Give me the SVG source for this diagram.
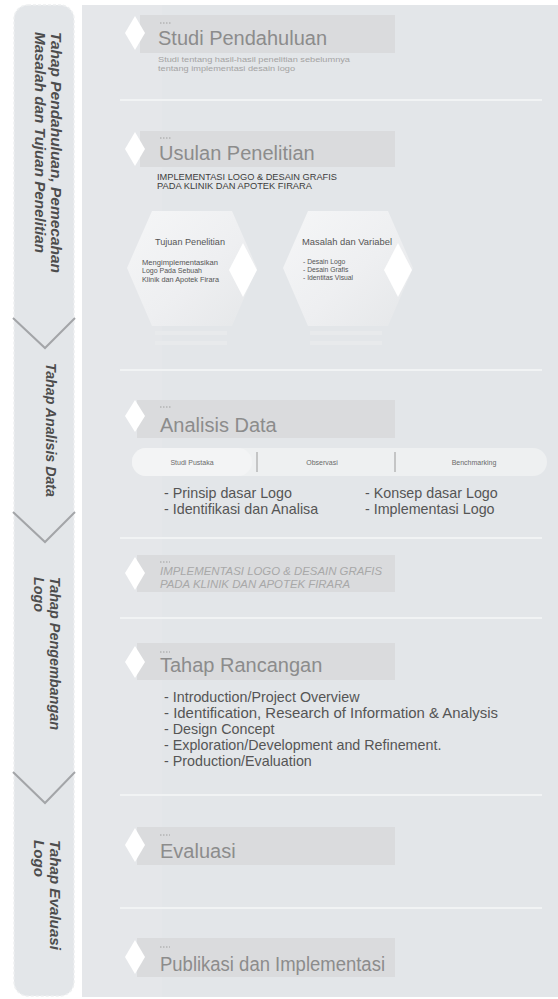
<svg xmlns="http://www.w3.org/2000/svg" width="558" height="999" viewBox="0 0 558 999">
<defs>
<style>
.col{fill:#e3e6e9;stroke:#eef0f1;stroke-width:1.5;stroke-dasharray:3 2}
.panel{fill:#e3e6e9}
.sep{stroke:#f1f3f4;stroke-width:2}
.lbl{fill:#dadbdd}
.dia{fill:#ffffff}
.dots{stroke:#a0a0a0;stroke-width:1;stroke-dasharray:1.5 1.5}
.title{font-family:"Liberation Sans",Arial,sans-serif;font-size:20px;fill:#8c8c8c}
.side{font-family:"Liberation Sans",Arial,sans-serif;font-size:14.5px;font-weight:bold;font-style:italic;fill:#4d4d4d}
.sub{font-family:"Liberation Sans",Arial,sans-serif;font-size:6.5px;fill:#a3a3a3}
.caps{font-family:"Liberation Sans",Arial,sans-serif;font-size:8.5px;fill:#3c3c3c}
.capsi{font-family:"Liberation Sans",Arial,sans-serif;font-size:10.5px;font-style:italic;fill:#a8a8a8}
.hx{font-family:"Liberation Sans",Arial,sans-serif;fill:#555}
.pill{font-family:"Liberation Sans",Arial,sans-serif;font-size:7px;fill:#6a6a6a}
.list{font-family:"Liberation Sans",Arial,sans-serif;font-size:14.3px;fill:#555}
.chev{fill:none;stroke:#a3a5a8;stroke-width:2}
</style>
<linearGradient id="hexg" x1="0" y1="0" x2="1" y2="1">
<stop offset="0" stop-color="#f5f6f7"/>
<stop offset="0.55" stop-color="#eeeff1"/>
<stop offset="1" stop-color="#e5e7e9"/>
</linearGradient>
</defs>
<rect width="558" height="999" fill="#ffffff"/>
<g id="left-column">
<rect class="col" x="14" y="5" width="60" height="991" rx="14"/>
</g>
<g id="main-panel">
<rect class="panel" x="82" y="5" width="476" height="992"/>
<rect x="82" y="5" width="80" height="992" fill="#e5e7ea"/>
<line class="sep" x1="120" y1="100" x2="542" y2="100"/>
<line class="sep" x1="120" y1="370" x2="542" y2="370"/>
<line class="sep" x1="120" y1="538" x2="542" y2="538"/>
<line class="sep" x1="120" y1="618" x2="542" y2="618"/>
<line class="sep" x1="120" y1="795" x2="542" y2="795"/>
<line class="sep" x1="120" y1="908" x2="542" y2="908"/>
</g>
<g id="connectors">
<polyline class="chev" points="13,318 45,348 75,318"/>
<polyline class="chev" points="13,512 45,542 75,512"/>
<polyline class="chev" points="13,772 45,803 75,772"/>
</g>
<g id="phase-1">
<text class="side" transform="translate(51,32) rotate(90)" textLength="241" lengthAdjust="spacingAndGlyphs">Tahap Pendahuluan, Pemecahan</text>
<text class="side" transform="translate(35,32) rotate(90)" textLength="221" lengthAdjust="spacingAndGlyphs">Masalah dan Tujuan Penelitian</text>
</g>
<g id="phase-2">
<text class="side" transform="translate(46,363) rotate(90)" textLength="134" lengthAdjust="spacingAndGlyphs">Tahap Analisis Data</text>
</g>
<g id="phase-3">
<text class="side" transform="translate(50,577) rotate(90)" textLength="153" lengthAdjust="spacingAndGlyphs">Tahap Pengembangan</text>
<text class="side" transform="translate(34,577) rotate(90)" textLength="35" lengthAdjust="spacingAndGlyphs">Logo</text>
</g>
<g id="phase-4">
<text class="side" transform="translate(50,840) rotate(90)" textLength="110" lengthAdjust="spacingAndGlyphs">Tahap Evaluasi</text>
<text class="side" transform="translate(34,840) rotate(90)" textLength="37" lengthAdjust="spacingAndGlyphs">Logo</text>
</g>
<g id="studi-pendahuluan">
<rect class="lbl" x="140" y="15" width="255" height="38"/>
<polygon class="dia" points="135,16 145,33 135,50 125,33"/>
<line class="dots" x1="160" y1="23" x2="172" y2="23"/>
<text class="title" x="158" y="45">Studi Pendahuluan</text>
<text class="sub" x="158" y="62" textLength="192" lengthAdjust="spacingAndGlyphs">Studi tentang hasil-hasil penelitian sebelumnya</text>
<text class="sub" x="158" y="71" textLength="137" lengthAdjust="spacingAndGlyphs">tentang implementasi desain logo</text>
</g>
<g id="usulan-penelitian">
<rect class="lbl" x="140" y="131" width="255" height="36"/>
<polygon class="dia" points="135,132 145,149 135,166 125,149"/>
<line class="dots" x1="160" y1="138" x2="172" y2="138"/>
<text class="title" x="159" y="160">Usulan Penelitian</text>
<text class="caps" x="157" y="180" textLength="180" lengthAdjust="spacingAndGlyphs">IMPLEMENTASI LOGO &amp; DESAIN GRAFIS</text>
<text class="caps" x="157" y="189" textLength="155" lengthAdjust="spacingAndGlyphs">PADA KLINIK DAN APOTEK FIRARA</text>
</g>
<g id="tujuan-penelitian">
<polygon points="152,211 232,211 257,268 232,326 152,326 127,268" fill="url(#hexg)"/>
<polygon class="dia" points="243,243 257,270 243,297 229,270"/>
<rect x="155" y="331" width="72" height="4" fill="#e8eaec"/>
<rect x="155" y="341" width="72" height="4" fill="#e8eaec"/>
<text class="hx" x="155" y="245" font-size="8.8" textLength="70" lengthAdjust="spacingAndGlyphs">Tujuan Penelitian</text>
<text class="hx" x="142" y="265" font-size="6.8" textLength="76" lengthAdjust="spacingAndGlyphs">Mengimplementasikan</text>
<text class="hx" x="142" y="273" font-size="6.8" textLength="60" lengthAdjust="spacingAndGlyphs">Logo Pada Sebuah</text>
<text class="hx" x="142" y="282" font-size="6.8" textLength="77" lengthAdjust="spacingAndGlyphs">Klinik dan Apotek Firara</text>
</g>
<g id="masalah-variabel">
<polygon points="308,211 388,211 413,268 388,326 308,326 283,268" fill="url(#hexg)"/>
<polygon class="dia" points="398,243 412,270 398,297 384,270"/>
<rect x="310" y="331" width="72" height="4" fill="#e8eaec"/>
<rect x="310" y="341" width="72" height="4" fill="#e8eaec"/>
<text class="hx" x="302" y="245" font-size="8.8" textLength="90" lengthAdjust="spacingAndGlyphs">Masalah dan Variabel</text>
<text class="hx" x="303" y="264" font-size="6.8">- Desain Logo</text>
<text class="hx" x="303" y="272" font-size="6.8">- Desain Grafis</text>
<text class="hx" x="303" y="280" font-size="6.8">- Identitas Visual</text>
</g>
<g id="analisis-data">
<rect class="lbl" x="137" y="400" width="258" height="38"/>
<polygon class="dia" points="135,400 145,416 135,432 125,416"/>
<line class="dots" x1="160" y1="407" x2="172" y2="407"/>
<text class="title" x="160" y="432">Analisis Data</text>
<rect x="132" y="448" width="415" height="28" rx="14" fill="#eef0f1"/>
<rect x="132" y="448" width="120" height="28" rx="14" fill="#f3f4f5"/>
<line x1="257" y1="452" x2="257" y2="472" stroke="#9a9a9a" stroke-width="1"/>
<line x1="395" y1="452" x2="395" y2="472" stroke="#9a9a9a" stroke-width="1"/>
<text class="pill" x="192" y="465" text-anchor="middle">Studi Pustaka</text>
<text class="pill" x="322" y="465" text-anchor="middle">Observasi</text>
<text class="pill" x="474" y="465" text-anchor="middle">Benchmarking</text>
<text class="list" x="164" y="498">- Prinsip dasar Logo</text>
<text class="list" x="164" y="514">- Identifikasi dan Analisa</text>
<text class="list" x="365" y="498">- Konsep dasar Logo</text>
<text class="list" x="365" y="514">- Implementasi Logo</text>
</g>
<g id="implementasi">
<rect class="lbl" x="137" y="555" width="258" height="37"/>
<polygon class="dia" points="135,557 145,573 135,590 125,573"/>
<line class="dots" x1="160" y1="562" x2="170" y2="562"/>
<text class="capsi" x="160" y="575" textLength="222" lengthAdjust="spacingAndGlyphs">IMPLEMENTASI LOGO &amp; DESAIN GRAFIS</text>
<text class="capsi" x="160" y="588" textLength="190" lengthAdjust="spacingAndGlyphs">PADA KLINIK DAN APOTEK FIRARA</text>
</g>
<g id="tahap-rancangan">
<rect class="lbl" x="137" y="643" width="258" height="37"/>
<polygon class="dia" points="135,646 145,662 135,678 125,662"/>
<line class="dots" x1="160" y1="652" x2="170" y2="652"/>
<text class="title" x="160" y="672">Tahap Rancangan</text>
<text class="list" x="164" y="702">- Introduction/Project Overview</text>
<text class="list" x="164" y="718" textLength="334" lengthAdjust="spacingAndGlyphs">- Identification, Research of Information &amp; Analysis</text>
<text class="list" x="164" y="734">- Design Concept</text>
<text class="list" x="164" y="750">- Exploration/Development and Refinement.</text>
<text class="list" x="164" y="766">- Production/Evaluation</text>
</g>
<g id="evaluasi">
<rect class="lbl" x="137" y="827" width="258" height="38"/>
<polygon class="dia" points="135,828 145,845 135,862 125,845"/>
<line class="dots" x1="160" y1="835" x2="170" y2="835"/>
<text class="title" x="160" y="858">Evaluasi</text>
</g>
<g id="publikasi">
<rect class="lbl" x="137" y="938" width="258" height="39"/>
<polygon class="dia" points="135,940 145,957 135,974 125,957"/>
<line class="dots" x1="160" y1="947" x2="170" y2="947"/>
<text class="title" x="160" y="971" textLength="225" lengthAdjust="spacingAndGlyphs">Publikasi dan Implementasi</text>
</g>
</svg>
